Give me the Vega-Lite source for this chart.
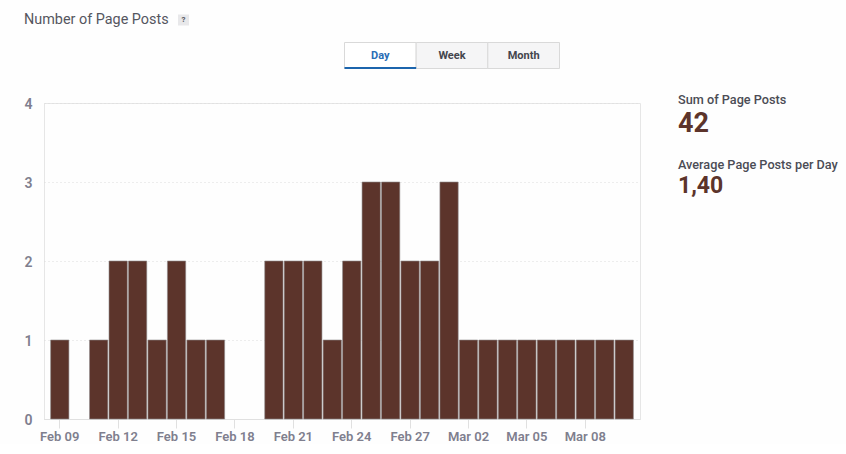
{
"$schema":"https://vega.github.io/schema/vega-lite/v6.json",
"padding":0,
"background":"#fefefe",
"spacing":0,
"bounds":"flush",
"config":{"view":{"stroke":null},"text":{"font":"Roboto"},"axis":{"labelFont":"Roboto"}},
"vconcat":[
{
"width":846,"height":103,
"data":{"values":[{"label":"Day","selected":true,"strip":"period"},{"label":"Week","selected":false,"strip":"period"},{"label":"Month","selected":false,"strip":"period"}]},
"resolve":{"scale":{"x":"independent","y":"independent"}},
"layer":[
{"data":{"values":[{"t":"Number of Page Posts"}]},
 "mark":{"type":"text","align":"left","baseline":"middle","fontSize":14.4,"color":"#55565f"},
 "encoding":{"text":{"field":"t"},
  "x":{"field":"t","type":"nominal","axis":null,"scale":{"type":"point","range":[24,24]}},
  "y":{"field":"t","type":"nominal","axis":null,"scale":{"type":"point","range":[20,20]}}}},
{"data":{"values":[{"t":"?"}]},
 "mark":{"type":"rect","fill":"#e8e8ea"},
 "encoding":{
  "x":{"field":"t","type":"nominal","axis":null,"scale":{"type":"band","range":[178,189],"padding":0}},
  "y":{"field":"t","type":"nominal","axis":null,"scale":{"type":"band","range":[14.5,25.5],"padding":0}}}},
{"data":{"values":[{"t":"?"}]},
 "mark":{"type":"text","align":"center","baseline":"middle","fontSize":8,"fontWeight":"bold","color":"#55565f"},
 "encoding":{"text":{"field":"t"},
  "x":{"field":"t","type":"nominal","axis":null,"scale":{"type":"point","range":[183.5,183.5]}},
  "y":{"field":"t","type":"nominal","axis":null,"scale":{"type":"point","range":[20,20]}}}},
{"mark":{"type":"rect","stroke":"#d9d9d9","strokeWidth":1},
 "encoding":{
  "fill":{"field":"label","type":"nominal","legend":null,"scale":{"domain":["Day","Week","Month"],"range":["#ffffff","#f5f5f6","#f5f5f6"]}},
  "x":{"field":"label","type":"nominal","axis":null,"sort":null,"scale":{"type":"band","domain":["Day","Week","Month"],"range":[344.5,559.5],"padding":0}},
  "y":{"field":"strip","type":"nominal","axis":null,"scale":{"type":"band","range":[42.5,68.5],"padding":0}}}},
{"transform":[{"filter":"datum.selected"}],
 "mark":{"type":"rect","fill":"#1c65ad"},
 "encoding":{
  "x":{"field":"label","type":"nominal","axis":null,"scale":{"type":"band","domain":["Day","Week","Month"],"range":[344.5,559.5],"padding":0}},
  "y":{"field":"strip","type":"nominal","axis":null,"scale":{"type":"band","range":[67,69],"padding":0}}}},
{"mark":{"type":"text","align":"center","baseline":"middle","fontSize":11,"fontWeight":"bold"},
 "encoding":{"text":{"field":"label"},
  "color":{"field":"label","type":"nominal","legend":null,"scale":{"domain":["Day","Week","Month"],"range":["#2a6db5","#44454d","#44454d"]}},
  "x":{"field":"label","type":"nominal","axis":null,"scale":{"type":"band","domain":["Day","Week","Month"],"range":[344.5,559.5],"padding":0}},
  "y":{"field":"strip","type":"nominal","axis":null,"scale":{"type":"band","range":[42.5,68.5],"padding":0}}}}
]
},
{
"spacing":38,
"bounds":"flush",
"hconcat":[
{"width":6,"height":316,"data":{"values":[{}]},"mark":{"type":"text"},"encoding":{}},
{
"width":596,"height":316,
"view":{"stroke":"#e6e6e6"},
"data":{"values":[
{"day":"Feb 09","posts":1},{"day":"Feb 10","posts":0},{"day":"Feb 11","posts":1},{"day":"Feb 12","posts":2},{"day":"Feb 13","posts":2},{"day":"Feb 14","posts":1},{"day":"Feb 15","posts":2},{"day":"Feb 16","posts":1},{"day":"Feb 17","posts":1},{"day":"Feb 18","posts":0},{"day":"Feb 19","posts":0},{"day":"Feb 20","posts":2},{"day":"Feb 21","posts":2},{"day":"Feb 22","posts":2},{"day":"Feb 23","posts":1},{"day":"Feb 24","posts":2},{"day":"Feb 25","posts":3},{"day":"Feb 26","posts":3},{"day":"Feb 27","posts":2},{"day":"Feb 28","posts":2},{"day":"Mar 01","posts":3},{"day":"Mar 02","posts":1},{"day":"Mar 03","posts":1},{"day":"Mar 04","posts":1},{"day":"Mar 05","posts":1},{"day":"Mar 06","posts":1},{"day":"Mar 07","posts":1},{"day":"Mar 08","posts":1},{"day":"Mar 09","posts":1},{"day":"Mar 10","posts":1}
]},
"mark":{"type":"bar","fill":"#5c342b","stroke":"#8f8a8c"},
"encoding":{
 "strokeWidth":{"condition":{"test":"datum.posts>0","value":0.6},"value":0},
 "x":{"field":"day","type":"ordinal","sort":null,"title":null,
  "scale":{"paddingInner":0.06,"paddingOuter":0.34},
  "axis":{"values":["Feb 09","Feb 12","Feb 15","Feb 18","Feb 21","Feb 24","Feb 27","Mar 02","Mar 05","Mar 08"],"labelAngle":0,"labelFontSize":13,"labelFontWeight":600,"labelColor":"#7f7f8e","tickColor":"#e0e0e0","tickSize":9,"labelPadding":2,"domainColor":"#e0e0e0","grid":false}},
 "y":{"field":"posts","type":"quantitative","title":null,
  "scale":{"domain":[0,4]},
  "axis":{"values":[0,1,2,3,4],"format":"d","labelFontSize":14,"labelFontWeight":600,"labelColor":"#7f7f8e","labelOffset":1,"tickSize":0,"labelPadding":12,"domain":false,"grid":true,"gridColor":"#dcdcdc","gridDash":[1,3]}}
}
},
{
"width":168,"height":316,
"data":{"values":[{"metric":"Sum of Page Posts","value":"42"},{"metric":"Average Page Posts per Day","value":"1,40"}]},
"resolve":{"scale":{"y":"independent"}},
"layer":[
{"mark":{"type":"text","align":"left","baseline":"middle","fontSize":12.7,"fontWeight":500,"color":"#4b4c55"},
 "encoding":{"text":{"field":"metric"},"x":{"value":0},
  "y":{"field":"metric","type":"nominal","axis":null,"sort":null,"scale":{"type":"point","range":[-3.5,62],"padding":0}}}},
{"mark":{"type":"text","align":"left","baseline":"middle","fontWeight":"bold","color":"#5c342b"},
 "encoding":{"text":{"field":"value"},"x":{"value":0},
  "size":{"field":"metric","type":"nominal","legend":null,"scale":{"type":"ordinal","domain":["Sum of Page Posts","Average Page Posts per Day"],"range":[27,23]}},
  "y":{"field":"metric","type":"nominal","axis":null,"sort":null,"scale":{"type":"point","range":[20.5,83],"padding":0}}}}
]
}
]
}
]
}
